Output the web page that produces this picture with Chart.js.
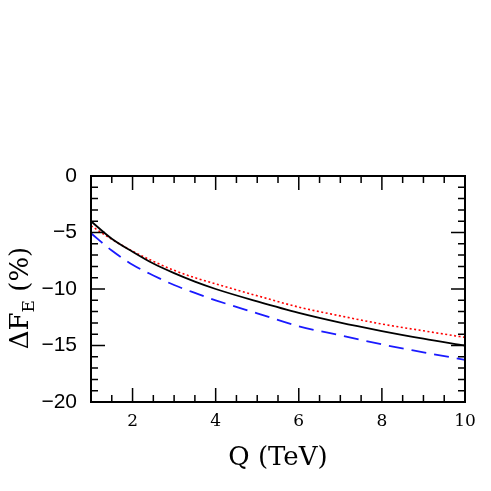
<!DOCTYPE html>
<html>
<head>
<meta charset="utf-8">
<script src="https://cdn.jsdelivr.net/npm/chart.js@4/dist/chart.umd.min.js"></script>
<style>
  html, body { margin: 0; padding: 0; background: #fff; }
  #wrap { width: 491px; height: 491px; }
</style>
</head>
<body>
<div id="wrap"><canvas id="fe" width="491" height="491"></canvas></div>
<script>
/* ΔF_E vs Q — three curves */

const Q_VALUES   = [1, 1.5, 2, 2.5, 3, 3.5, 4, 5, 6, 7, 8, 9, 10];
const SOLID_BLK  = [-4.0, -5.55, -6.7, -7.75, -8.6, -9.35, -10.0, -11.1, -12.12, -12.98, -13.72, -14.4, -15.0];
const DOTTED_RED = [-4.4, -5.6, -6.65, -7.55, -8.35, -9.0, -9.55, -10.6, -11.6, -12.38, -13.1, -13.7, -14.28];
const DASHED_BLU = [-5.07, -6.6, -7.85, -8.8, -9.65, -10.35, -11.0, -12.15, -13.3, -14.1, -14.9, -15.6, -16.28];

const X_TICKS = [2, 4, 6, 8, 10];
const Y_TICKS = [0, -5, -10, -15, -20];

const X_TITLE = 'Q (TeV)';
const Y_TITLE = ['ΔF', 'E', ' (%)'];

const SERIF = '"DejaVu Serif", serif';
const SANS = '"Liberation Sans", Arial, sans-serif';

const pts = ys => Q_VALUES.map((q, i) => ({ x: q, y: ys[i] }));

// frame, inward ticks on all four sides, axis titles
const framePlugin = {
  id: 'frame',
  afterDraw(chart) {
    const { ctx, chartArea: a, scales: { x, y } } = chart;
    ctx.save();
    ctx.strokeStyle = '#000';
    ctx.lineWidth = 2;
    ctx.strokeRect(a.left, a.top, a.right - a.left, a.bottom - a.top);

    ctx.lineWidth = 1.5;
    ctx.beginPath();
    for (let v = 1; v <= 10.001; v += 0.5) {
      const px = x.getPixelForValue(v);
      const len = (v % 2 === 0 && v < 10) ? 14 : 7;
      ctx.moveTo(px, a.bottom); ctx.lineTo(px, a.bottom - len);
      ctx.moveTo(px, a.top); ctx.lineTo(px, a.top + len);
    }
    for (let v = -19; v <= -1; v++) {
      const py = y.getPixelForValue(v);
      const len = v % 5 === 0 ? 14 : 7;
      ctx.moveTo(a.left, py); ctx.lineTo(a.left + len, py);
      ctx.moveTo(a.right, py); ctx.lineTo(a.right - len, py);
    }
    ctx.stroke();

    // x title
    ctx.fillStyle = '#000';
    ctx.font = '26px ' + SERIF;
    ctx.textAlign = 'center';
    ctx.textBaseline = 'alphabetic';
    ctx.fillText(X_TITLE, (a.left + a.right) / 2, 465);

    // y title with subscript, rotated
    ctx.translate(28, 298);
    ctx.rotate(-Math.PI / 2);
    ctx.textAlign = 'left';
    const big = '26px ' + SERIF, small = '17px ' + SERIF;
    ctx.font = big;
    const w0 = ctx.measureText(Y_TITLE[0]).width;
    const w2 = ctx.measureText(Y_TITLE[2]).width;
    ctx.font = small;
    const w1 = ctx.measureText(Y_TITLE[1]).width;
    let cx = -(w0 + w1 + w2) / 2;
    ctx.font = big;
    ctx.fillText(Y_TITLE[0], cx, 0);
    cx += w0;
    ctx.font = small;
    ctx.fillText(Y_TITLE[1], cx, 6);
    cx += w1;
    ctx.font = big;
    ctx.fillText(Y_TITLE[2], cx, 0);
    ctx.restore();
  }
};

new Chart(document.getElementById('fe'), {
  type: 'scatter',
  data: {
    datasets: [
      {
        label: 'solid',
        data: pts(SOLID_BLK),
        borderColor: '#000',
        borderWidth: 1.8,
        showLine: true,
        cubicInterpolationMode: 'monotone',
        pointRadius: 0
      },
      {
        label: 'dotted',
        data: pts(DOTTED_RED),
        borderColor: '#ff0000',
        borderWidth: 1.6,
        borderDash: [2, 2.5],
        showLine: true,
        cubicInterpolationMode: 'monotone',
        pointRadius: 0
      },
      {
        label: 'dashed',
        data: pts(DASHED_BLU),
        borderColor: '#1a1aff',
        borderWidth: 1.8,
        borderDash: [15, 8],
        showLine: true,
        cubicInterpolationMode: 'monotone',
        pointRadius: 0
      }
    ]
  },
  options: {
    responsive: false,
    animation: false,
    layout: { padding: { top: 176, right: 26, left: 0, bottom: 0 } },
    plugins: { legend: { display: false }, tooltip: { enabled: false } },
    scales: {
      x: {
        type: 'linear',
        min: 1, max: 10,
        grid: { display: false, drawTicks: false },
        border: { display: false },
        afterFit: s => { s.height = 89; },
        afterBuildTicks: s => { s.ticks = X_TICKS.map(v => ({ value: v })); },
        ticks: { color: '#000', padding: 9, maxRotation: 0, font: { family: SERIF, size: 17 } }
      },
      y: {
        type: 'linear',
        min: -20, max: 0,
        grid: { display: false, drawTicks: false },
        border: { display: false },
        afterFit: s => { s.width = 91; },
        afterBuildTicks: s => { s.ticks = Y_TICKS.map(v => ({ value: v })); },
        ticks: {
          color: '#000', padding: 14,
          font: { family: SANS, size: 21 },
          callback: v => String(v).replace('-', '\u2212')
        }
      }
    }
  },
  plugins: [framePlugin]
});
</script>
</body>
</html>
